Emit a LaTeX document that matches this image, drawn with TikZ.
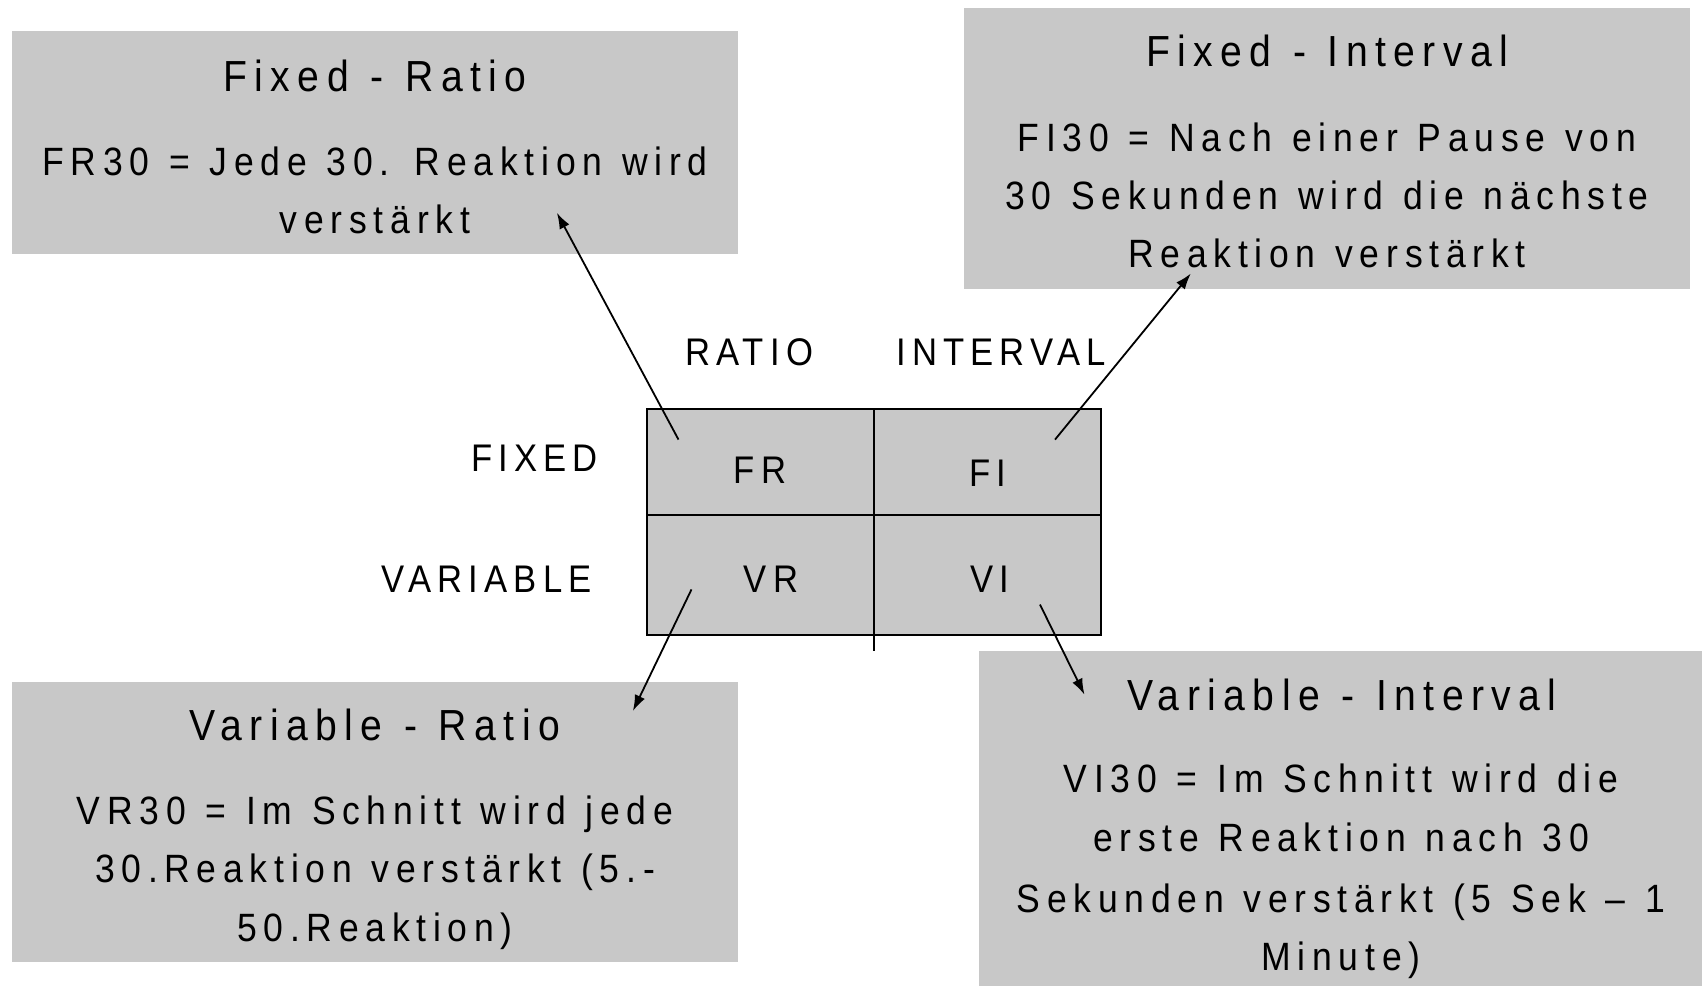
\documentclass[tikz,border=0pt]{standalone}
\usepackage{fontspec}
\newfontfamily\mf[FakeStretch=0.9,LetterSpace=17]{Liberation Sans}
\newfontfamily\mfl[FakeStretch=0.9,LetterSpace=16]{Liberation Sans}
\newcommand\myWideSpace{\spaceskip 0.5em\relax}
\usetikzlibrary{arrows.meta}
\definecolor{boxgray}{RGB}{200,200,200}
\tikzset{
  infobox/.style={fill=boxgray,draw=none,inner sep=0pt},
  boxtext/.style={font=\mf\fontsize{39.5}{47}\selectfont\myWideSpace,inner sep=0pt,anchor=base},
  titletext/.style={font=\mf\fontsize{43.5}{50}\selectfont\myWideSpace,inner sep=0pt,anchor=base},
  labeltext/.style={font=\mfl\fontsize{38.5}{46}\selectfont,inner sep=0pt,anchor=base},
  gridline/.style={draw=black,line width=2.2pt},
  conn/.style={draw=black,line width=1.8pt,-{Latex[length=16pt,width=11pt]}}
}
\begin{document}
\begin{tikzpicture}[x=1pt,y=-1pt]
\useasboundingbox (0,0) rectangle (1702,986);
% boxes
\path[infobox] (12,31) rectangle (738,254);
\path[infobox] (964,8) rectangle (1690,289);
\path[infobox] (12,682) rectangle (738,962);
\path[infobox] (979,651) rectangle (1702,986);
% Fixed - Ratio
\node[titletext] (frt) at (375,91) {Fixed - Ratio};
\node[boxtext] (frb1) at (375,175) {FR30 = Jede 30. Reaktion wird};
\node[boxtext] (frb2) at (375,233) {verstärkt};
% Fixed - Interval
\node[titletext] (fit) at (1327,66) {Fixed - Interval};
\node[boxtext] (fib1) at (1327,151) {FI30 = Nach einer Pause von};
\node[boxtext] (fib2) at (1327,209) {30 Sekunden wird die nächste};
\node[boxtext] (fib3) at (1327,267) {Reaktion verstärkt};
% Variable - Ratio
\node[titletext] (vrt) at (375,740) {Variable - Ratio};
\node[boxtext] (vrb1) at (375,824) {VR30 = Im Schnitt wird jede};
\node[boxtext] (vrb2) at (375,882) {30.Reaktion verstärkt (5.-};
\node[boxtext] (vrb3) at (375,941) {50.Reaktion)};
% Variable - Interval
\node[titletext] (vit) at (1342,710) {Variable - Interval};
\node[boxtext] (vib1) at (1341,792) {VI30 = Im Schnitt wird die};
\node[boxtext] (vib2) at (1341,851) {erste Reaktion nach 30};
\node[boxtext] (vib3) at (1341,912) {Sekunden verstärkt (5 Sek – 1};
\node[boxtext] (vib4) at (1341,970) {Minute)};
% grid
\path[fill=boxgray] (647,409) rectangle (1101,635);
\draw[gridline] (647,409) rectangle (1101,635);
\draw[gridline] (647,515) -- (1101,515);
\draw[gridline] (874,409) -- (874,651);
% labels
\node[labeltext] (ratio) at (749,365) {RATIO};
\node[labeltext] (interval) at (1001,365) {INTERVAL};
\node[labeltext,anchor=base east] (fixed) at (598,471) {FIXED};
\node[labeltext,anchor=base east] (variable) at (592,592) {VARIABLE};
\node[labeltext] (fr) at (760,483) {FR};
\node[labeltext] (fi) at (988,486) {FI};
\node[labeltext] (vr) at (771,592) {VR};
\node[labeltext] (vi) at (990,592) {VI};
% connectors
\coordinate (s1) at (678.5,439.6);
\coordinate (e1) at (556.9,212.8);
\coordinate (s2) at (1055,439.6);
\coordinate (e2) at (1190.8,273.5);
\coordinate (s3) at (691.5,589.4);
\coordinate (e3) at (632.9,711);
\coordinate (s4) at (1040,604.6);
\coordinate (e4) at (1084.5,694.7);
\draw[conn] (s1) -- (e1);
\draw[conn] (s2) -- (e2);
\draw[conn] (s3) -- (e3);
\draw[conn] (s4) -- (e4);
\end{tikzpicture}
\end{document}
